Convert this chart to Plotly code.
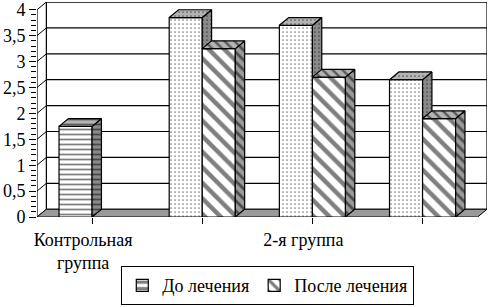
import plotly.graph_objects as go

categories = ["Контрольная группа", "1-я группа", "2-я группа", "3-я группа"]
tick_labels = ["Контрольная<br>группа", "", "2-я группа", ""]
before = [1.75, 3.85, 3.7, 2.65]
after = [None, 3.25, 2.7, 1.9]
series_names = ["До лечения", "После лечения"]
y_ticks = [0, 0.5, 1, 1.5, 2, 2.5, 3, 3.5, 4]
y_tick_text = ["0", "0,5", "1", "1,5", "2", "2,5", "3", "3,5", "4"]

FONT = "Liberation Serif"
BW = 0.3      # bar width in category units
DX = 0.085    # depth offset, category units
DY = 0.15     # depth offset, value units
YMAX = 4
n = len(categories)

before_patterns = ["-"] + ["."] * (n - 1)
before_sizes = [5] + [4] * (n - 1)
before_solid = [0.35] + [0.15] * (n - 1)

fig = go.Figure()
fig.add_trace(go.Bar(
    x=list(range(n)), y=before, name=series_names[0], width=BW, offset=-BW,
    hoverinfo="skip",
    marker=dict(color="white", line=dict(color="black", width=1.2),
                pattern=dict(shape=before_patterns, fgcolor="black", bgcolor="white",
                             size=before_sizes, solidity=before_solid)),
))
fig.add_trace(go.Bar(
    x=list(range(n)), y=after, name=series_names[1], width=BW, offset=0,
    hoverinfo="skip",
    marker=dict(color="white", line=dict(color="black", width=1.2),
                pattern=dict(shape="\\", fgcolor="black", bgcolor="white", size=11, solidity=0.4)),
))

def face(xs, ys, bg, shape, size, solidity):
    fig.add_trace(go.Scatter(
        x=xs + [xs[0]], y=ys + [ys[0]], mode="lines", fill="toself",
        fillcolor=bg, line=dict(color="black", width=1.2),
        fillpattern=dict(shape=shape, fgcolor="black", bgcolor=bg, size=size, solidity=solidity),
        showlegend=False, hoverinfo="skip"))

for i in range(n):
    v = before[i]
    a = after[i]
    if v is not None:
        l, r = i - BW, i
        shp, sz, so = before_patterns[i], before_sizes[i], before_solid[i]
        low = a if (a is not None and a < v) else 0
        if low > 0:
            face([r, r + DX, r + DX, r], [low, low, v + DY, v], "#8a8a8a", shp, sz, so)
        else:
            face([r, r + DX, r + DX, r], [0, DY, v + DY, v], "#8a8a8a", shp, sz, so)
        face([l, l + DX, r + DX, r], [v, v + DY, v + DY, v], "#b4b4b4", shp, sz, so)
    if a is not None:
        l, r = i, i + BW
        face([r, r + DX, r + DX, r], [0, DY, a + DY, a], "#9a9a9a", "\\", 7, 0.4)
        face([l, l + DX, r + DX, r], [a, a + DY, a + DY, a], "#b4b4b4", "\\", 7, 0.35)

shapes = []
x_left, x_right = -0.5, n - 0.5
shapes.append(dict(type="rect", xref="x", yref="y", x0=x_left + DX, x1=x_right + DX,
                   y0=DY, y1=YMAX + DY, fillcolor="white",
                   line=dict(color="black", width=1.2), layer="below"))
for v in y_ticks[1:]:
    shapes.append(dict(type="line", xref="x", yref="y", x0=x_left + DX, x1=x_right + DX,
                       y0=v + DY, y1=v + DY, line=dict(color="black", width=1.2), layer="below"))
for v in y_ticks:
    shapes.append(dict(type="line", xref="x", yref="y", x0=x_left, x1=x_left + DX,
                       y0=v, y1=v + DY, line=dict(color="black", width=1), layer="below"))
shapes.append(dict(type="path", xref="x", yref="y",
                   path=f"M{x_left},0 L{x_right},0 L{x_right + DX},{DY} L{x_left + DX},{DY} Z",
                   fillcolor="#9a9a9a", line=dict(color="black", width=1), layer="below"))
shapes.append(dict(type="line", xref="x", yref="y", x0=x_left, x1=x_left, y0=0, y1=YMAX,
                   line=dict(color="black", width=1.2), layer="above"))

fig.update_layout(
    width=491, height=307,
    margin=dict(l=37, r=4, t=2, b=90, autoexpand=False),
    paper_bgcolor="white", plot_bgcolor="white",
    separators=", ",
    font=dict(family=FONT, size=17, color="black"),
    barmode="overlay",
    shapes=shapes,
    showlegend=True,
    hovermode=False,
    legend=dict(orientation="h", xref="container", yref="container",
                x=0.545, xanchor="center", y=2 / 307, yanchor="bottom",
                bordercolor="black", borderwidth=1.2, bgcolor="white",
                font=dict(family=FONT, size=18), itemwidth=30, tracegroupgap=0),
    xaxis=dict(range=[x_left, x_right + DX], tickmode="array", tickvals=list(range(n)),
               ticktext=tick_labels, tickson="boundaries", ticks="outside", ticklen=6,
               tickcolor="black", showgrid=False, showline=False, zeroline=False,
               automargin=False, ticklabelshift=-9, tickfont=dict(family=FONT, size=18)),
    yaxis=dict(range=[0, YMAX + DY], tickmode="array", tickvals=y_ticks, ticktext=y_tick_text,
               ticks="outside", ticklen=7, tickcolor="black", showgrid=False, showline=False,
               zeroline=False, automargin=False, ticklabelstandoff=0,
               tickfont=dict(family=FONT, size=18),
               minor=dict(tickvals=[i / 10 for i in range(41)], ticks="outside", ticklen=5,
                          tickcolor="black")),
)

fig.write_html("out.html", config={"displayModeBar": False},
               post_script="document.body.style.margin='0';")
